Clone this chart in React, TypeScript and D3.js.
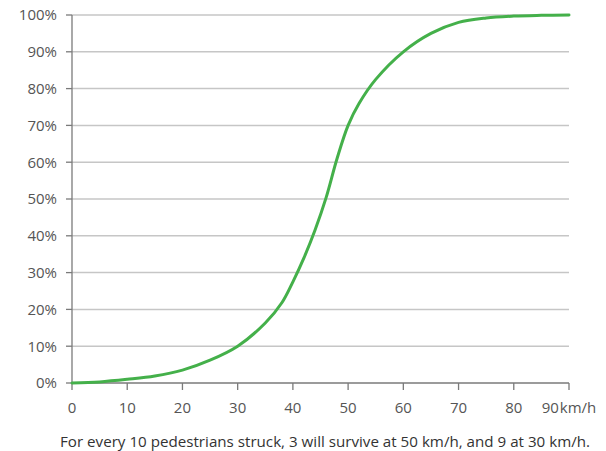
import React from "react";
import * as d3 from "d3";

const speeds = [0, 5, 10, 15, 20, 25, 30, 35, 38, 40, 42, 44, 46, 48, 50, 52, 55, 60, 65, 70, 75, 80, 85, 90];
const fatality = [0, 0.3, 1.0, 1.9, 3.5, 6.2, 10, 16.3, 21.8, 27.5, 34, 41.5, 50.3, 61, 70, 76, 82.5, 90, 95, 98, 99.2, 99.7, 99.9, 100];
const xTicks = [0, 10, 20, 30, 40, 50, 60, 70, 80, 90];
const yTicks = [0, 10, 20, 30, 40, 50, 60, 70, 80, 90, 100];
const caption = "For every 10 pedestrians struck, 3 will survive at 50 km/h, and 9 at 30 km/h.";

const W = 606, H = 451;
const FONT = "'Open Sans', 'Noto Sans', sans-serif";

export default function App() {
  const x = d3.scaleLinear().domain([0, 90]).range([72, 569]);
  const y = d3.scaleLinear().domain([0, 100]).range([383, 15]);
  const pts = speeds.map((s, i) => [s, fatality[i]] as [number, number]);
  const line = d3.line<[number, number]>().x(d => x(d[0])).y(d => y(d[1])).curve(d3.curveCatmullRom.alpha(0.5));

  return (
    <svg width={W} height={H} style={{ position: "absolute", left: 0, top: 0, display: "block", background: "#fff" }}>
      {yTicks.filter(t => t > 0).map(t => (
        <line key={"g" + t} x1={x(0)} x2={x(90)} y1={y(t)} y2={y(t)} stroke="#c6c6c6" strokeWidth={1.5} />
      ))}
      <line x1={x(0)} x2={x(0)} y1={y(0)} y2={y(100)} stroke="#7a7a7a" strokeWidth={1.3} />
      <line x1={x(0)} x2={x(90)} y1={y(0)} y2={y(0)} stroke="#7a7a7a" strokeWidth={1.3} />
      {yTicks.map(t => (
        <g key={"y" + t}>
          <line x1={x(0) - 6} x2={x(0)} y1={y(t)} y2={y(t)} stroke="#7a7a7a" strokeWidth={1.3} />
          <text x={57} y={y(t)} dy="0.36em" textAnchor="end" fontFamily={FONT} fontSize={15} fill="#555">{t}%</text>
        </g>
      ))}
      {xTicks.map(t => (
        <g key={"x" + t}>
          <line x1={x(t)} x2={x(t)} y1={y(0)} y2={y(0) + 7} stroke="#7a7a7a" strokeWidth={1.3} />
          <text x={x(t)} y={413} textAnchor="middle" fontFamily={FONT} fontSize={15} fill="#555">
            {t === 90 ? <>{t}<tspan dx="1">km/h</tspan></> : t}
          </text>
        </g>
      ))}
      <path d={line(pts) || ""} fill="none" stroke="#44b04a" strokeWidth={3} strokeLinecap="round" />
      <text x={325} y={447} textAnchor="middle" fontFamily={FONT} fontSize={14.5} fill="#333" textLength={530} lengthAdjust="spacingAndGlyphs">{caption}</text>
    </svg>
  );
}
